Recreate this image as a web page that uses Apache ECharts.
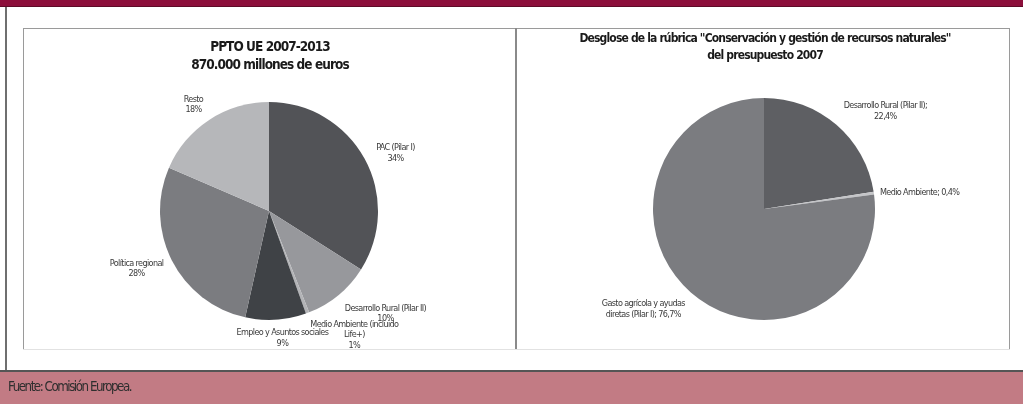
<!DOCTYPE html>
<html>
<head>
<meta charset="utf-8">
<script src="https://cdn.jsdelivr.net/npm/echarts@6/dist/echarts.min.js"></script>
<style>
html,body{margin:0;padding:0;background:#fff;}
#c{width:1023px;height:404px;}
#c svg{will-change:transform;}
#c svg text{letter-spacing:-0.07em;}
#c svg text[style*="13.2px"]{letter-spacing:-0.11em;}
</style>
</head>
<body>
<div id="c"></div>
<script>
// ---- data ----
var leftTitle = 'PPTO UE 2007-2013\n870.000 millones de euros';
var leftNames = ['PAC (Pilar I)', 'Desarrollo Rural (Pilar II)', 'Medio Ambiente (incluido\nLife+)', 'Empleo y Asuntos sociales', 'Política regional', 'Resto'];
var leftValues = [34, 10, 0.5, 9, 28, 18.5];
var leftPctLabels = ['34%', '10%', '1%', '9%', '28%', '18%'];

var rightTitle = 'Desglose de la rúbrica "Conservación y gestión de recursos naturales"\ndel presupuesto 2007';
var rightNames = ['Desarrollo Rural (Pilar II);', 'Medio Ambiente;', 'Gasto agrícola y ayudas\ndiretas (Pilar I);'];
var rightValues = [22.4, 0.4, 76.7];
var rightPctLabels = ['22,4%', '0,4%', '76,7%'];

var sourceText = 'Fuente: Comisión Europea.';

// ---- styles ----
var leftColors = ['#525357', '#97989c', '#b3b4b7', '#3f4246', '#7b7c80', '#b6b7ba'];
var rightColors = ['#5e5f63', '#c4c5c8', '#7b7c80'];
var leftNudge = [[9, 6], [31, -1], [38, -2], [5, -7], [-13, -4], [-2, 5]];
var rightNudge = [[33, 5], [21, 2], [-31, -3]];
var rightBreak = ['\n', ' ', ' '];
var NARROW = "'Liberation Sans Narrow', 'DejaVu Sans Condensed', 'Arial Narrow', sans-serif";

function buildLeft() {
  return leftNames.map(function (n, i) {
    return { name: n, value: leftValues[i], itemStyle: { color: leftColors[i] } };
  });
}
function buildRight() {
  return rightNames.map(function (n, i) {
    return { name: n, value: rightValues[i], itemStyle: { color: rightColors[i] } };
  });
}

var chart = echarts.init(document.getElementById('c'), null, { renderer: 'svg' });

var labelBase = {
  show: true,
  position: 'outside',
  alignTo: 'none',
  distanceToLabelLine: 0,
  color: '#3a3a3a',
  fontFamily: NARROW,
  fontSize: 9,
  lineHeight: 10.5
};

var option = {
  backgroundColor: '#ffffff',
  animation: false,
  title: [
    {
      text: leftTitle,
      left: 270, top: 37, textAlign: 'center', padding: 0,
      textStyle: { fontFamily: NARROW, fontSize: 13.5, fontWeight: 'bold', color: '#1a1a1a', lineHeight: 18 }
    },
    {
      text: rightTitle,
      left: 765, top: 29.5, textAlign: 'center', padding: 0,
      textStyle: { fontFamily: NARROW, fontSize: 12, fontWeight: 'bold', color: '#1a1a1a', lineHeight: 17 }
    },
    {
      text: sourceText,
      left: 8, top: 378, padding: 0,
      textStyle: { fontFamily: NARROW, fontSize: 13.2, fontWeight: 'normal', color: '#2e2e2e', lineHeight: 16 }
    }
  ],
  graphic: [
    { type: 'rect', z: -10, shape: { x: 0, y: 0, width: 1023, height: 6 }, style: { fill: '#8c0f3b' } },
    { type: 'rect', z: -10, shape: { x: 0, y: 6, width: 1023, height: 1 }, style: { fill: '#5e0b28' } },
    { type: 'rect', z: -10, shape: { x: 5, y: 7, width: 2, height: 364 }, style: { fill: '#6f6f6f' } },
    { type: 'rect', z: -10, shape: { x: 23, y: 28, width: 987, height: 1 }, style: { fill: '#9a9a9a' } },
    { type: 'rect', z: -10, shape: { x: 23, y: 28, width: 1, height: 321 }, style: { fill: '#9a9a9a' } },
    { type: 'rect', z: -10, shape: { x: 515, y: 28, width: 2, height: 321 }, style: { fill: '#8a8a8a' } },
    { type: 'rect', z: -10, shape: { x: 1009, y: 28, width: 1, height: 321 }, style: { fill: '#9a9a9a' } },
    { type: 'rect', z: -10, shape: { x: 23, y: 349, width: 987, height: 1 }, style: { fill: '#e2e2e2' } },
    { type: 'rect', z: -10, shape: { x: 0, y: 370, width: 1023, height: 2 }, style: { fill: '#555555' } },
    { type: 'rect', z: -10, shape: { x: 0, y: 372, width: 1023, height: 32 }, style: { fill: '#c27b84' } }
  ],
  series: [
    {
      type: 'pie',
      center: [269, 211],
      radius: [0, 109],
      startAngle: 90,
      clockwise: true,
      avoidLabelOverlap: false,
      data: buildLeft(),
      itemStyle: { borderWidth: 0 },
      label: Object.assign({}, labelBase, {
        formatter: function (p) { return p.name + '\n' + leftPctLabels[p.dataIndex]; }
      }),
      labelLine: { show: false, length: 25, length2: 0 },
      labelLayout: function (p) {
        return { align: 'center', verticalAlign: 'middle', dx: leftNudge[p.dataIndex][0], dy: leftNudge[p.dataIndex][1] };
      },
      emphasis: { disabled: true }
    },
    {
      type: 'pie',
      center: [764, 209],
      radius: [0, 111],
      startAngle: 90,
      clockwise: true,
      avoidLabelOverlap: false,
      data: buildRight(),
      itemStyle: { borderWidth: 0 },
      label: Object.assign({}, labelBase, {
        formatter: function (p) { return p.name + rightBreak[p.dataIndex] + rightPctLabels[p.dataIndex]; }
      }),
      labelLine: { show: false, length: 25, length2: 0 },
      labelLayout: function (p) {
        return { align: 'center', verticalAlign: 'middle', dx: rightNudge[p.dataIndex][0], dy: rightNudge[p.dataIndex][1] };
      },
      emphasis: { disabled: true }
    }
  ]
};
chart.setOption(option);
</script>
</body>
</html>
